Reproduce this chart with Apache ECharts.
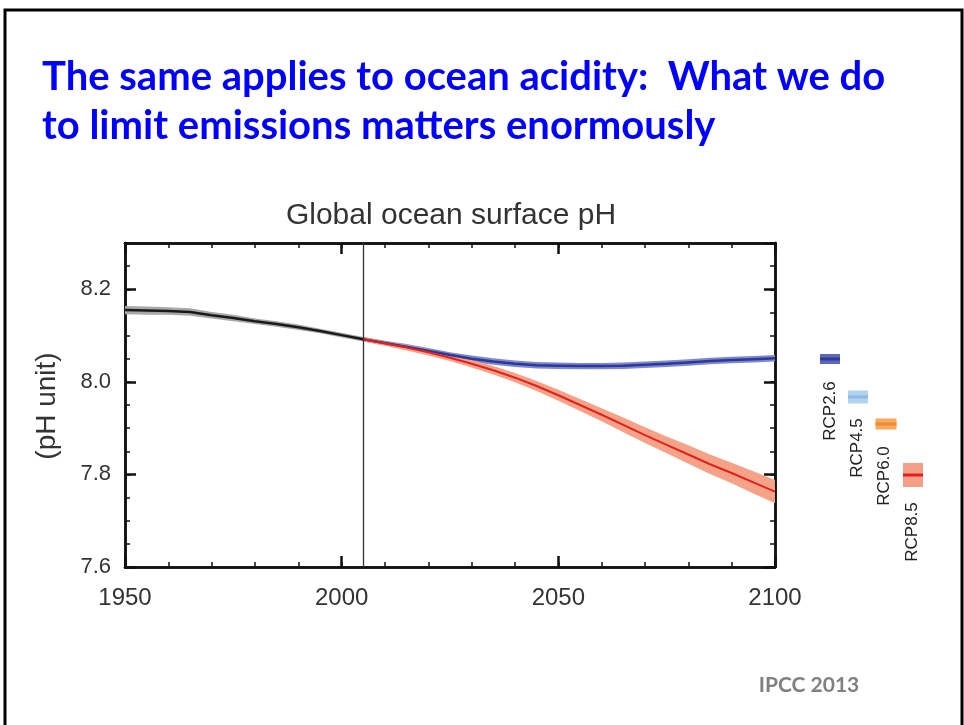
<!DOCTYPE html>
<html>
<head>
<meta charset="utf-8">
<script src="https://cdn.jsdelivr.net/npm/echarts@6/dist/echarts.min.js"></script>
<style>
html,body{margin:0;padding:0;background:#fff;}
#chart{width:964px;height:725px;}
</style>
</head>
<body>
<div id="chart"></div>
<script>
// ---- data ----
const histYears = [1950,1955,1960,1965,1970,1975,1980,1985,1990,1995,2000,2005];
const histPH    = [8.155,8.154,8.153,8.151,8.144,8.138,8.131,8.125,8.118,8.110,8.101,8.092];
const histSpread= [0.009,0.009,0.008,0.008,0.007,0.007,0.006,0.006,0.006,0.005,0.005,0.005];

const projYears = [2005,2010,2015,2020,2025,2030,2035,2040,2045,2050,2055,2060,2065,2070,2075,2080,2085,2090,2095,2100];
const rcp26PH     = [8.092,8.084,8.076,8.067,8.058,8.050,8.044,8.039,8.036,8.035,8.034,8.034,8.035,8.037,8.039,8.042,8.045,8.047,8.049,8.051];
const rcp26Spread = [0.005,0.005,0.006,0.006,0.006,0.007,0.007,0.007,0.007,0.007,0.007,0.007,0.007,0.007,0.007,0.007,0.007,0.007,0.007,0.007];
const rcp85PH     = [8.092,8.083,8.074,8.064,8.052,8.039,8.025,8.009,7.991,7.971,7.950,7.929,7.907,7.885,7.864,7.843,7.822,7.803,7.783,7.763];
const rcp85Spread = [0.005,0.005,0.006,0.007,0.007,0.008,0.009,0.010,0.011,0.012,0.013,0.014,0.016,0.017,0.018,0.020,0.021,0.022,0.024,0.025];

const presentYear = 2005;
const xTickLabels = [1950,2000,2050,2100];
const yTickLabels = [7.6,7.8,8.0,8.2];
const legendNames = ['RCP2.6','RCP4.5','RCP6.0','RCP8.5'];

const slideTitle = ['The same applies to ocean acidity:  What we do','to limit emissions matters enormously'];
const chartTitle = 'Global ocean surface pH';
const yName = '(pH unit)';
const credit = 'IPCC 2013';

// ---- chart ----
const chart = echarts.init(document.getElementById('chart'), null, {renderer:'canvas'});
const G = {left:125, top:243, right:189, bottom:158};
const AX = '#111';
const FONT = '"Liberation Sans", Arial, sans-serif';

function bandSeries(years, mid, spread, color){
  return {
    type:'custom', xAxisIndex:2, yAxisIndex:2, silent:true,
    data: years.map((y,i)=>[y, mid[i]-spread[i], mid[i]+spread[i]]),
    encode:{x:0, y:[1,2]},
    renderItem:function(params, api){
      if(params.dataIndex !== 0) return null;
      const lo = years.map((y,i)=>api.coord([y, mid[i]-spread[i]]));
      const hi = years.map((y,i)=>api.coord([y, mid[i]+spread[i]])).reverse();
      return {type:'polygon', shape:{points: lo.concat(hi)}, style:{fill:color}};
    }
  };
}
function lineSeries(years, vals, color, w, extra){
  return Object.assign({
    type:'line', xAxisIndex:2, yAxisIndex:2, symbol:'none', silent:true,
    data: years.map((y,i)=>[y, vals[i]]),
    lineStyle:{color:color, width:w}
  }, extra||{});
}

function xAx(grid, pos, interval, len, w, labels){
  return {type:'value', gridIndex:grid, position:pos, min:1950, max:2100, interval:interval,
    axisLine:{show:true, onZero:false, lineStyle:{color:AX, width:2.5}},
    axisTick:{show:true, inside:true, length:len, lineStyle:{color:AX, width:w}},
    axisLabel:{show:labels, margin:19, color:'#333', fontSize:24, fontFamily:FONT,
      formatter:v=> xTickLabels.indexOf(v)>=0 ? String(v) : ''},
    splitLine:{show:false}};
}
function yAx(grid, pos, interval, len, w, labels){
  return {type:'value', gridIndex:grid, position:pos, min:7.6, max:8.3, interval:interval,
    axisLine:{show:true, onZero:false, lineStyle:{color:AX, width:2.5}},
    axisTick:{show:true, inside:true, length:len, lineStyle:{color:AX, width:w}},
    axisLabel:{show:labels, margin:14, color:'#333', fontSize:22, fontFamily:FONT, showMaxLabel:false,
      formatter:v=>{ const s=v.toFixed(1); return yTickLabels.some(t=>Math.abs(t-v)<1e-6)? s : ''; }},
    splitLine:{show:false}};
}

const legendItems = [
  {name:legendNames[0], bx:830, by:359, bw:20, bh:10, fill:'#5d68b5', line:'#2e3a9e', tx:830, ty:411},
  {name:legendNames[1], bx:858, by:397, bw:20, bh:13, fill:'#b3d2ee', line:'#8dbbe6', tx:857, ty:448},
  {name:legendNames[2], bx:886, by:424, bw:21, bh:11, fill:'#f6a95e', line:'#f08a2e', tx:884, ty:476},
  {name:legendNames[3], bx:913, by:475, bw:20, bh:24, fill:'#f4a088', line:'#e3201b', tx:912, ty:532}
];
const TFONT = 'bold 40px Lato, "Open Sans", sans-serif';
const graphics = [
  {type:'rect', shape:{x:5, y:10, width:957, height:730}, style:{fill:null, stroke:'#000', lineWidth:3}, silent:true},
  {type:'text', x:42, y:77, style:{text:slideTitle[0], font:TFONT, fill:'#0000ff', textVerticalAlign:'middle'}},
  {type:'text', x:42, y:126, style:{text:slideTitle[1], font:TFONT, fill:'#0000ff', textVerticalAlign:'middle'}},
  {type:'text', x:451, y:216, style:{text:chartTitle, font:'30px '+FONT, fill:'#333', textAlign:'center', textVerticalAlign:'middle'}},
  {type:'text', x:47, y:406, rotation:Math.PI/2, style:{text:yName, font:'28px '+FONT, fill:'#333', textAlign:'center', textVerticalAlign:'middle'}},
  {type:'text', x:809, y:685, style:{text:credit, font:'bold 21px Lato, "Open Sans", sans-serif', fill:'#808080', textAlign:'center', textVerticalAlign:'middle'}}
];
legendItems.forEach(it=>{
  graphics.push({type:'rect', shape:{x:it.bx-it.bw/2, y:it.by-it.bh/2, width:it.bw, height:it.bh}, style:{fill:it.fill}});
  graphics.push({type:'rect', shape:{x:it.bx-it.bw/2, y:it.by-1.5, width:it.bw, height:3}, style:{fill:it.line}});
  graphics.push({type:'text', x:it.tx, y:it.ty, rotation:Math.PI/2, style:{text:it.name, font:'17px '+FONT, fill:'#222', textAlign:'center', textVerticalAlign:'middle'}});
});

const option = {
  animation:false,
  backgroundColor:'#fff',
  grid:[Object.assign({}, G), Object.assign({}, G)],
  xAxis:[
    xAx(0,'bottom',10,5,1.5,false),
    xAx(0,'top',10,5,1.5,false),
    xAx(1,'bottom',50,11,2.5,true),
    xAx(1,'top',50,11,2.5,false)
  ],
  yAxis:[
    yAx(0,'left',0.05,5,1.5,false),
    yAx(0,'right',0.05,5,1.5,false),
    yAx(1,'left',0.2,11,2.5,true),
    yAx(1,'right',0.2,11,2.5,false)
  ],
  series:[
    bandSeries(histYears, histPH, histSpread, '#a8a8a8'),
    lineSeries(histYears, histPH, '#1a1a1a', 2.5, {
      markLine:{silent:true, symbol:'none', label:{show:false},
        lineStyle:{color:'#333', width:1.3, type:'solid'},
        data:[{xAxis:presentYear}]}
    }),
    bandSeries(projYears, rcp26PH, rcp26Spread, '#8089cc'),
    lineSeries(projYears, rcp26PH, '#2b3a9a', 2.5),
    bandSeries(projYears, rcp85PH, rcp85Spread, '#f4a288'),
    lineSeries(projYears, rcp85PH, '#e3201b', 2)
  ],
  graphic:graphics
};
chart.setOption(option);
</script>
</body>
</html>
